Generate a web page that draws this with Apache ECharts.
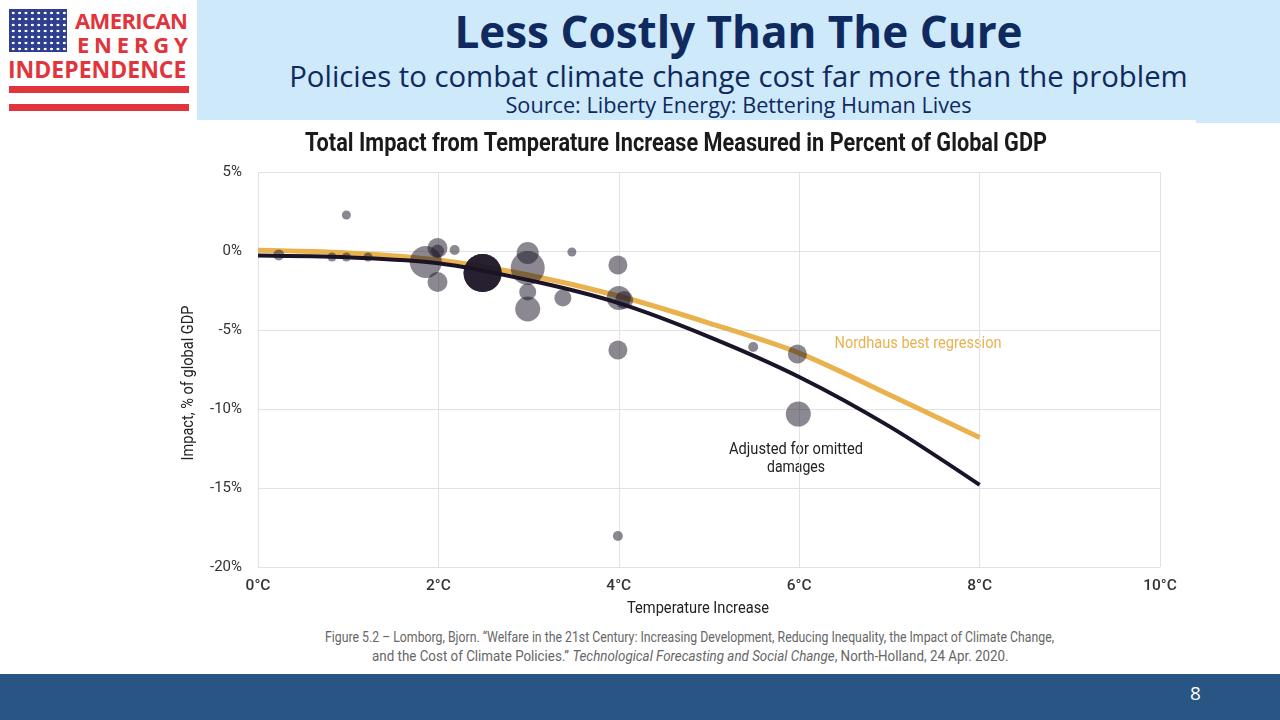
<!DOCTYPE html>
<html>
<head>
<meta charset="utf-8">
<script src="https://cdn.jsdelivr.net/npm/echarts@6/dist/echarts.min.js"></script>
<style>
  html, body { margin: 0; padding: 0; width: 1280px; height: 720px; overflow: hidden; background: #fff; }
  .band { position: absolute; left: 197px; top: 0; width: 1083px; height: 123px; background: #cde9fa; }
  .paper { position: absolute; left: 197px; top: 120px; width: 999px; height: 6px; background: #fff; }
  .head { position: absolute; left: 197px; width: 1083px; text-align: center; color: #0f2a5e; font-family: "Open Sans", "Noto Sans", sans-serif; white-space: nowrap; }
  .h1 { top: 1px; font-size: 44px; font-weight: 700; }
  .h2 { top: 56px; font-size: 29.3px; }
  .h3 { top: 90px; font-size: 21.7px; }
  .flag { position: absolute; left: 9px; top: 9px; width: 58px; height: 43px; background-color: #2d3f8e;
          background-image: radial-gradient(circle, #fff 1.1px, transparent 1.6px);
          background-size: 6.4px 6px; background-position: 1px 1px; }
  .logo { position: absolute; color: #e2343b; font-family: "Open Sans", "Noto Sans", sans-serif; font-weight: 700; white-space: nowrap; }
  .stripe { position: absolute; left: 9px; width: 180px; height: 7px; background: #e2343b; }
  .foot { position: absolute; left: 0; top: 674px; width: 1280px; height: 46px; background: #285583; }
  .pg { position: absolute; left: 1190px; top: 680px; color: #fff; font-family: "Open Sans", sans-serif; font-size: 19px; }
  .cap { position: absolute; left: 0; width: 1380px; text-align: center; color: #666; font-size: 14px;
         font-family: Roboto, sans-serif; white-space: nowrap; }
  .cap span { display: inline-block; }
  #chart { position: absolute; left: 0; top: 0; width: 1280px; height: 720px; }
</style>
</head>
<body>
<div class="band"></div>
<div class="paper"></div>
<div class="head h1">Less Costly Than The Cure</div>
<div class="head h2">Policies to combat climate change cost far more than the problem</div>
<div class="head h3">Source: Liberty Energy: Bettering Human Lives</div>

<div class="flag"></div>
<div class="logo" style="left:75px;top:5px;font-size:22px;letter-spacing:-0.6px;">AMERICAN</div>
<div class="logo" style="left:77px;top:29px;font-size:22px;letter-spacing:4.8px;">ENERGY</div>
<div class="logo" style="left:8px;top:53px;font-size:23px;">INDEPENDENCE</div>
<div class="stripe" style="top:86px;"></div>
<div class="stripe" style="top:104px;"></div>

<div class="cap" style="top:629px;"><span data-w="729">Figure 5.2 – Lomborg, Bjorn. “Welfare in the 21st Century: Increasing Development, Reducing Inequality, the Impact of Climate Change,</span></div>
<div class="cap" style="top:648px;"><span data-w="637">and the Cost of Climate Policies.” <i>Technological Forecasting and Social Change</i>, North-Holland, 24 Apr. 2020.</span></div>

<div class="foot"></div>
<div class="pg">8</div>

<div id="chart"></div>
<script>
// estimates (temperature °C, impact %GDP, bubble size px)
var studies = [
    [0.23, -0.25, 11],
    [0.82, -0.38, 9],
    [0.98, -0.38, 9],
    [1.22, -0.38, 9],
    [0.98, 2.28, 9],
    [1.86, -0.7, 32],
    [1.99, 0.19, 20],
    [1.99, 0.0, 13],
    [1.99, -1.96, 20],
    [2.18, 0.06, 10],
    [2.49, -1.39, 38],
    [2.49, -1.39, 38],
    [2.49, -1.39, 38],
    [2.49, -1.39, 38],
    [2.99, -0.13, 22],
    [2.99, -1.08, 34],
    [2.99, -2.6, 17],
    [2.99, -3.67, 25],
    [3.38, -2.97, 17],
    [3.48, -0.06, 9],
    [3.99, -0.89, 19],
    [4.0, -2.97, 24],
    [4.06, -3.1, 18],
    [3.99, -6.27, 19],
    [3.99, -18.04, 10],
    [5.49, -6.08, 10],
    [5.98, -6.52, 19],
    [5.99, -10.32, 25],
    [10.02, -6.08, 10]
];
var curveTemps = [0, 1, 2, 3, 4, 5, 6, 7, 8];
var nordhaus = [0.05, -0.12, -0.57, -1.52, -2.85, -4.56, -6.46, -9.1, -11.8];
var adjusted = [-0.28, -0.4, -0.77, -1.84, -3.3, -5.43, -7.97, -11.1, -14.8];
var xTicks = [0, 2, 4, 6, 8, 10];
var yTicks = [5, 0, -5, -10, -15, -20];

function pairs(xs, ys) {
    return xs.map(function (x, i) { return [x, ys[i]]; });
}

// the source picture is a horizontally squeezed image, so squeeze text to the widths seen there
var ctx = document.createElement('canvas').getContext('2d');
function squeeze(text, font, w) {
    ctx.font = font;
    return w / ctx.measureText(text).width;
}
function label(text, x, y, w, size, weight, color, rot) {
    var font = weight + ' ' + size + 'px Roboto';
    return {
        type: 'text', x: x, y: y, rotation: rot || 0,
        scaleX: squeeze(text, font, w),
        style: { text: text, font: font, fill: color, align: 'center', verticalAlign: 'middle' }
    };
}

document.querySelectorAll('.cap span').forEach(function (s) {
    var k = +s.getAttribute('data-w') / s.offsetWidth;
    s.style.transform = 'scaleX(' + k + ')';
});

(function () {
    var myChart = echarts.init(document.getElementById('chart'));
    var option = {
        animation: false,
        grid: { left: 258, right: 120, top: 172, bottom: 153 },
        xAxis: {
            type: 'value',
            min: 0, max: 10, interval: 2,
            axisLine: { show: false },
            axisTick: { show: false },
            axisLabel: {
                margin: 11,
                fontFamily: 'Roboto, sans-serif', fontWeight: 500, fontSize: 15.5, color: '#333',
                formatter: function (v) { return xTicks.indexOf(v) >= 0 ? v + '°C' : ''; }
            },
            splitLine: { lineStyle: { color: '#e2e2e2' } }
        },
        yAxis: {
            type: 'value',
            min: -20, max: 5, interval: 5,
            axisLine: { show: false },
            axisTick: { show: false },
            axisLabel: {
                margin: 16,
                fontFamily: 'Roboto, sans-serif', fontSize: 15, color: '#333',
                formatter: function (v) { return yTicks.indexOf(v) >= 0 ? v + '%' : ''; }
            },
            splitLine: { lineStyle: { color: '#e2e2e2' } }
        },
        series: [
            {
                name: 'Nordhaus',
                type: 'line',
                data: pairs(curveTemps, nordhaus),
                smooth: 0.3,
                showSymbol: false,
                lineStyle: { color: '#e9b24e', width: 5 },
                z: 2
            },
            {
                name: 'Adjusted',
                type: 'line',
                data: pairs(curveTemps, adjusted),
                smooth: 0.3,
                showSymbol: false,
                lineStyle: { color: '#1b1328', width: 4 },
                z: 3
            },
            {
                name: 'Studies',
                type: 'scatter',
                data: studies,
                symbolSize: function (d) { return d[2]; },
                itemStyle: { color: 'rgba(25,20,38,0.63)' },
                z: 4
            }
        ],
        graphic: [
            label('Total Impact from Temperature Increase Measured in Percent of Global GDP', 676, 145, 742, 25, 'bold', '#1a1a1a'),
            label('Impact, % of global GDP', 189, 383, 155, 17, 'normal', '#222', Math.PI / 2),
            label('Temperature Increase', 698, 609, 142, 17, 'normal', '#222'),
            label('Nordhaus best regression', 918, 344, 167, 17, 'normal', '#e9b24e'),
            label('Adjusted for omitted', 796, 450, 134, 17, 'normal', '#222'),
            label('damages', 796, 468, 58, 17, 'normal', '#222')
        ]
    };
    myChart.setOption(option);
})();
</script>
</body>
</html>
